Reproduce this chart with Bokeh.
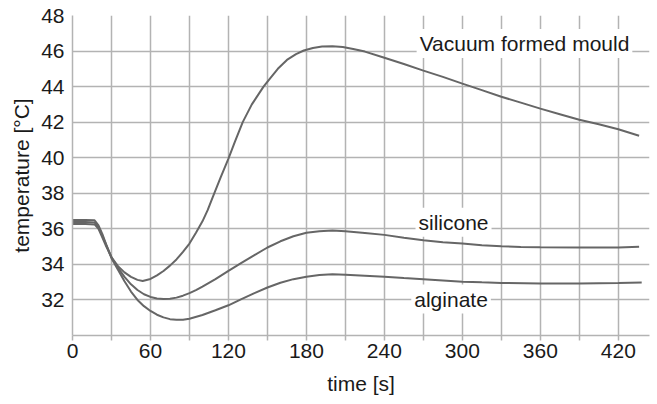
from bokeh.plotting import figure
from bokeh.models import Range1d, FixedTicker, Label
from bokeh.embed import file_html
from bokeh.resources import INLINE

# ---- data ----
vac_t = [0, 10, 17, 20, 23, 26, 30, 35, 40, 45, 50, 54, 60, 65, 70, 75, 80, 85, 90, 95,
         100, 104, 108, 114, 120, 125, 131, 138, 147, 153, 158, 165, 172, 178, 185, 192,
         200, 208, 216, 225, 240, 255, 270, 285, 300, 315, 330, 345, 360, 375, 390, 405, 420, 436]
vac_T = [36.27, 36.27, 36.25, 36.0, 35.5, 35.0, 34.4, 33.9, 33.55, 33.3, 33.13, 33.07, 33.18, 33.38,
         33.63, 33.93, 34.28, 34.7, 35.17, 35.78, 36.42, 37.05, 37.8, 38.9, 39.95, 40.9, 42.0, 43.0,
         44.0, 44.55, 45.0, 45.5, 45.83, 46.03, 46.17, 46.25, 46.27, 46.23, 46.12, 45.97, 45.62, 45.27,
         44.9, 44.55, 44.17, 43.8, 43.43, 43.1, 42.76, 42.45, 42.14, 41.88, 41.6, 41.24]

sil_t = [0, 10, 17, 20, 23, 26, 30, 35, 40, 45, 50, 55, 60, 65, 70, 75, 80, 85, 90, 95, 100,
         110, 120, 130, 140, 150, 160, 170, 180, 190, 200, 210, 225, 240, 255, 270, 285, 300,
         315, 330, 345, 360, 390, 420, 436]
sil_T = [36.38, 36.38, 36.35, 36.1, 35.6, 35.1, 34.4, 33.8, 33.3, 32.88, 32.56, 32.32, 32.17,
         32.08, 32.05, 32.07, 32.13, 32.24, 32.38, 32.55, 32.75, 33.17, 33.63, 34.08, 34.52,
         34.95, 35.3, 35.58, 35.78, 35.87, 35.9, 35.86, 35.77, 35.66, 35.5, 35.36, 35.25, 35.17,
         35.08, 35.02, 34.98, 34.96, 34.95, 34.95, 34.99]

alg_t = [0, 10, 17, 20, 23, 26, 30, 35, 40, 45, 50, 55, 60, 65, 70, 75, 80, 85, 90, 100, 110,
         120, 130, 140, 150, 160, 170, 180, 190, 200, 210, 225, 240, 255, 270, 285, 300, 315,
         330, 360, 390, 420, 438]
alg_T = [36.5, 36.5, 36.48, 36.2, 35.7, 35.1, 34.35, 33.7, 33.05, 32.47, 32.0, 31.65, 31.38,
         31.17, 31.02, 30.92, 30.88, 30.88, 30.94, 31.15, 31.42, 31.7, 32.05, 32.38, 32.7, 32.97,
         33.17, 33.31, 33.4, 33.44, 33.42, 33.36, 33.3, 33.23, 33.17, 33.1, 33.03, 32.99, 32.96,
         32.93, 32.93, 32.96, 32.98]

x_ticks = [0, 60, 120, 180, 240, 300, 360, 420]
x_minor = [30, 90, 150, 210, 270, 330, 390]
y_ticks = [32, 34, 36, 38, 40, 42, 44, 46, 48]

# ---- styling ----
FONT = "Liberation Sans"
GRID = "#b3b3b3"
LINE = "#666666"
TXT = "#1a1a1a"

p = figure(width=657, height=404, x_range=Range1d(0, 444), y_range=Range1d(30, 48),
           output_backend="svg", toolbar_location=None,
           min_border_left=72, min_border_right=8, min_border_top=15, min_border_bottom=69)
p.outline_line_color = None
p.background_fill_color = "white"

p.xgrid.ticker = FixedTicker(ticks=sorted(x_ticks + x_minor))
p.ygrid.ticker = FixedTicker(ticks=[30] + y_ticks)
for g in (p.xgrid, p.ygrid):
    g.grid_line_color = GRID
    g.grid_line_width = 1.5

p.xaxis.ticker = FixedTicker(ticks=x_ticks, minor_ticks=x_minor)
p.yaxis.ticker = FixedTicker(ticks=y_ticks)

for ax in (p.xaxis, p.yaxis):
    ax.axis_line_color = GRID
    ax.axis_line_width = 1.5
    ax.major_tick_line_color = GRID
    ax.major_tick_line_width = 1.5
    ax.minor_tick_line_color = GRID
    ax.minor_tick_line_width = 1.5
    ax.major_label_text_font = FONT
    ax.major_label_text_font_size = "21px"
    ax.major_label_text_color = TXT
    ax.axis_label_text_font = FONT
    ax.axis_label_text_font_size = "21px"
    ax.axis_label_text_font_style = "normal"
    ax.axis_label_text_color = TXT

p.xaxis.major_tick_in = 0
p.xaxis.major_tick_out = 5
p.xaxis.minor_tick_in = 0
p.xaxis.minor_tick_out = 5
p.xaxis.major_label_standoff = 3
p.xaxis.axis_label = "time [s]"
p.xaxis.axis_label_standoff = 11

p.yaxis.major_tick_in = 0
p.yaxis.major_tick_out = 0
p.yaxis.minor_tick_line_color = None
p.yaxis.major_label_standoff = 8
p.yaxis.axis_label = "temperature [°C]"
p.yaxis.axis_label_standoff = 5

for t, T in ((vac_t, vac_T), (sil_t, sil_T), (alg_t, alg_T)):
    p.line(t, T, line_color=LINE, line_width=2)

labels = [("Vacuum formed mould", 347.8, 46.42),
          ("silicone", 293.2, 36.37),
          ("alginate", 291.3, 32.05)]
for txt, lx, ly in labels:
    p.add_layout(Label(x=lx, y=ly, text=txt, text_align="center", text_baseline="middle",
                       text_font=FONT, text_font_size="21px", text_color=TXT,
                       background_fill_color="white", padding=3))

open("out.html", "w").write(file_html(p, INLINE))
